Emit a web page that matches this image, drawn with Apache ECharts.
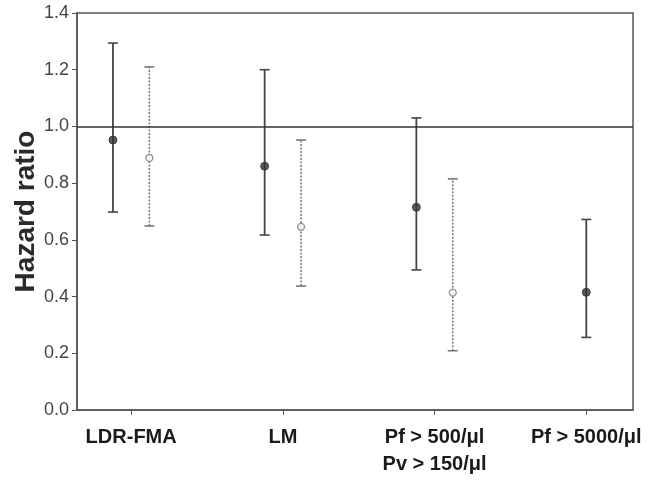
<!DOCTYPE html>
<html><head><meta charset="utf-8">
<script src="https://cdn.jsdelivr.net/npm/echarts@6/dist/echarts.min.js"></script>
<style>html,body{margin:0;padding:0;background:#fff}#c{width:651px;height:483px}</style>
</head><body><div id="c"></div>
<script>
const categories = ['LDR-FMA', 'LM', 'Pf > 500/\u03bcl\nPv > 150/\u03bcl', 'Pf > 5000/\u03bcl'];
// solid (filled) series
const solidHR    = [0.952, 0.86, 0.715, 0.415];
const solidLow   = [0.698, 0.617, 0.494, 0.256];
const solidHigh  = [1.294, 1.20, 1.03, 0.672];
// dotted (open) series
const openHR     = [0.889, 0.646, 0.414, null];
const openLow    = [0.649, 0.437, 0.209, null];
const openHigh   = [1.21, 0.952, 0.815, null];
const yTicks = [0, 0.2, 0.4, 0.6, 0.8, 1.0, 1.2, 1.4];

const pairOffset = 0.12;
const catPos = categories.map((c, i) => i + 1);
function xFor(i, which) {
  if (openHR[i] == null) return catPos[i];
  return catPos[i] + (which === 'solid' ? -pairOffset : pairOffset);
}
const solidData = solidHR.map((v, i) => [xFor(i, 'solid'), v, solidLow[i], solidHigh[i]]);
const openData = openHR.map((v, i) => v == null ? null : [xFor(i, 'open'), v, openLow[i], openHigh[i]]).filter(d => d);

function errRender(color, dash, width) {
  return function (params, api) {
    const x = api.value(0);
    const lo = api.coord([x, api.value(2)]);
    const hi = api.coord([x, api.value(3)]);
    const hw = 5;
    return {
      type: 'group',
      children: [
        { type: 'line', shape: { x1: lo[0], y1: lo[1], x2: hi[0], y2: hi[1] }, style: { stroke: color, lineWidth: width, lineDash: dash } },
        { type: 'line', shape: { x1: lo[0] - hw, y1: lo[1], x2: lo[0] + hw, y2: lo[1] }, style: { stroke: color, lineWidth: 1.6 } },
        { type: 'line', shape: { x1: hi[0] - hw, y1: hi[1], x2: hi[0] + hw, y2: hi[1] }, style: { stroke: color, lineWidth: 1.6 } }
      ]
    };
  };
}

const chart = echarts.init(document.getElementById('c'));
chart.setOption({
  animation: false,
  grid: { left: 77, top: 13, width: 556, height: 397, show: true, borderColor: '#555', borderWidth: 1.5,
          containLabel: false, outerBoundsMode: 'none' },
  xAxis: {
    type: 'value', min: 0.643, max: 4.308,
    splitLine: { show: false },
    axisLine: { lineStyle: { color: '#555', width: 1.5 } },
    axisTick: { show: true, customValues: catPos, length: 5, lineStyle: { color: '#555' } },
    axisLabel: {
      customValues: catPos,
      formatter: v => categories[Math.round(v) - 1] || '',
      fontFamily: 'Liberation Sans, Arial, sans-serif', fontWeight: 'bold', fontSize: 20,
      color: '#1a1a1a', margin: 14, lineHeight: 27
    }
  },
  yAxis: {
    type: 'value', min: 0, max: 1.4, interval: 0.2,
    name: 'Hazard ratio', nameLocation: 'middle', nameGap: 37, nameMoveOverlap: false,
    nameTextStyle: { fontFamily: 'Liberation Sans, Arial, sans-serif', fontWeight: 'bold', fontSize: 28, color: '#2a2a2a' },
    splitLine: { show: false },
    axisLine: { show: true, lineStyle: { color: '#555', width: 1.5 } },
    axisTick: { show: true, length: 5, lineStyle: { color: '#555' } },
    axisLabel: {
      formatter: v => { const t = yTicks.find(k => Math.abs(k - v) < 1e-6); return t == null ? '' : t.toFixed(1); },
      fontFamily: 'Liberation Sans, Arial, sans-serif', fontSize: 18, color: '#444', margin: 8
    }
  },
  series: [
    {
      type: 'custom', renderItem: errRender('#444', null, 1.8), data: solidData,
      encode: { x: 0, y: [2, 3] }, z: 2,
      markLine: {
        silent: true, symbol: 'none', label: { show: false },
        lineStyle: { color: '#333', width: 1.6, type: 'solid' },
        data: [{ yAxis: 1.0 }]
      }
    },
    {
      type: 'custom', renderItem: errRender('#777', [2, 1.5], 1.5), data: openData,
      encode: { x: 0, y: [2, 3] }, z: 2
    },
    {
      type: 'scatter', data: solidData.map(d => [d[0], d[1]]), symbol: 'circle', symbolSize: 8,
      itemStyle: { color: '#333', borderColor: '#333', borderWidth: 1 }, z: 5
    },
    {
      type: 'scatter', data: openData.map(d => [d[0], d[1]]), symbol: 'circle', symbolSize: 7,
      itemStyle: { color: '#fff', borderColor: '#777', borderWidth: 1.3 }, z: 5
    }
  ]
});
</script></body></html>
